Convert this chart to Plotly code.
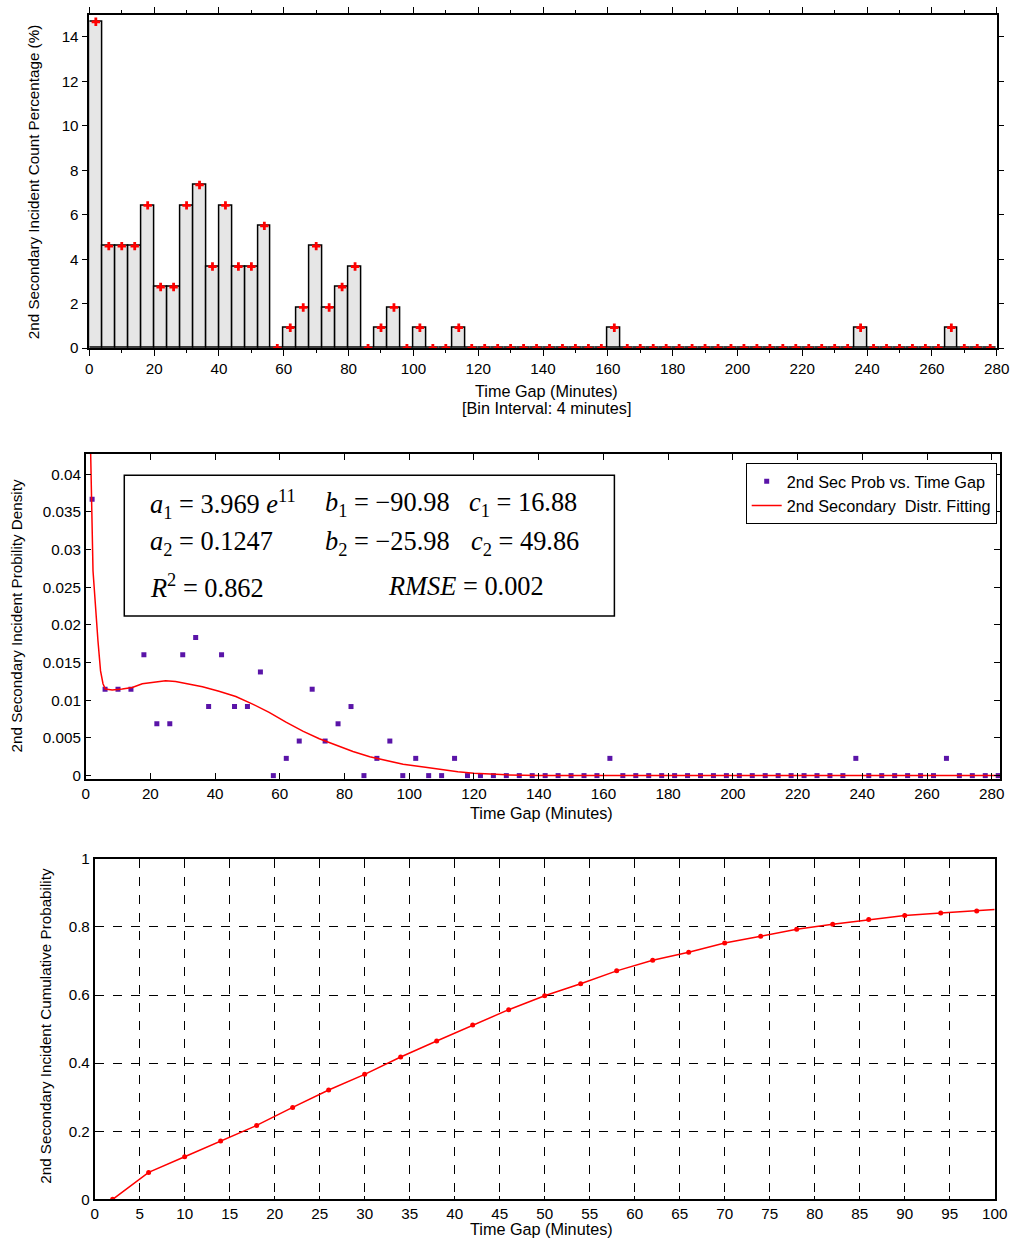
import plotly.graph_objects as go

# ---------------- data ----------------
# Top: histogram of time gaps (4-minute bins), percentage of incidents
bin_centers = list(range(2, 280, 4))
count_pct = [14.68, 4.59, 4.59, 4.59, 6.42, 2.75, 2.75, 6.42, 7.34, 3.67,
             6.42, 3.67, 3.67, 5.50, 0.0, 0.92, 1.83, 4.59, 1.83, 2.75,
             3.67, 0.0, 0.92, 1.83, 0.0, 0.92, 0.0, 0.0, 0.92, 0.0,
             0.0, 0.0, 0.0, 0.0, 0.0, 0.0, 0.0, 0.0, 0.0, 0.0,
             0.92, 0.0, 0.0, 0.0, 0.0, 0.0, 0.0, 0.0, 0.0, 0.0,
             0.0, 0.0, 0.0, 0.0, 0.0, 0.0, 0.0, 0.0, 0.0, 0.92,
             0.0, 0.0, 0.0, 0.0, 0.0, 0.0, 0.92, 0.0, 0.0, 0.0]

# Middle: probability density points and fitted curve
dens_x = list(range(2, 286, 4))
dens_y = [0.0367, 0.01147, 0.01147, 0.01147, 0.01606, 0.00688, 0.00688, 0.01606, 0.01835, 0.00917,
          0.01606, 0.00917, 0.00917, 0.01376, 0.0, 0.00229, 0.00459, 0.01147, 0.00459, 0.00688,
          0.00917, 0.0, 0.00229, 0.00459, 0.0, 0.00229, 0.0, 0.0, 0.00229, 0.0,
          0.0, 0.0, 0.0, 0.0, 0.0, 0.0, 0.0, 0.0, 0.0, 0.0,
          0.00229, 0.0, 0.0, 0.0, 0.0, 0.0, 0.0, 0.0, 0.0, 0.0,
          0.0, 0.0, 0.0, 0.0, 0.0, 0.0, 0.0, 0.0, 0.0, 0.00229,
          0.0, 0.0, 0.0, 0.0, 0.0, 0.0, 0.00229, 0.0, 0.0, 0.0, 0.0]
fit_x = [1.2, 1.55, 2.27, 3.1, 3.8, 4.6, 5.36, 6.1, 8.2, 11.3, 14.4, 17.5, 21.6, 24.7, 27.8,
         31.9, 36.1, 41.2, 46.4, 51.6, 56.7, 61.9, 67.1, 72.2, 77.4, 82.6, 87.8, 92.9,
         98.1, 105, 110, 115, 120, 125, 130, 140, 150, 284]
fit_y = [0.065, 0.0427, 0.0272, 0.0214, 0.0179, 0.0139, 0.0122, 0.0115, 0.01136, 0.0115,
         0.0117, 0.0122, 0.0124, 0.0126, 0.0125, 0.0122, 0.0118, 0.0112, 0.0105, 0.0095,
         0.0084, 0.0071, 0.0059, 0.0049, 0.0040, 0.0032, 0.0025, 0.0020, 0.0015, 0.0011,
         0.0008, 0.0005, 0.0003, 0.0002, 0.0001, 0.00003, 0.0, 0.0]

# Bottom: cumulative probability
cum_x = list(range(2, 100, 4))
cum_y = [0.0, 0.079, 0.125, 0.171, 0.217, 0.270, 0.321, 0.367, 0.418, 0.465,
         0.512, 0.557, 0.598, 0.633, 0.671, 0.702, 0.726, 0.753, 0.773, 0.793,
         0.808, 0.822, 0.834, 0.841, 0.847]
cum_line_x = cum_x + [100]
cum_line_y = cum_y + [0.851]

# ---------------- layout helpers ----------------
W, H = 1013, 1245
# the photographed page comes out slightly shrunk and shifted; positions below are
# given in target-image pixels and mapped back into figure pixels
SX, BX = 0.985, 2.5
SY, BY = 0.988, 7.0
FS = 1 / 0.986

def fx(x):
    return (x - BX) / SX
def fy(y):
    return (y - BY) / SY
def px(x):
    return min(1.0, max(0.0, fx(x) / W))
def py(y):
    return min(1.0, max(0.0, 1 - fy(y) / H))

FONT = "Liberation Sans, Arial, sans-serif"
SERIF = "Liberation Serif, Times New Roman, serif"
PURPLE = "#5a14a8"

fig = go.Figure()

# Top chart
fig.add_trace(go.Bar(x=bin_centers, y=count_pct, width=4,
                     marker=dict(color="#e6e6e6", line=dict(color="black", width=1.5)),
                     xaxis="x", yaxis="y", showlegend=False))
fig.add_trace(go.Scatter(x=bin_centers, y=count_pct, mode="markers",
                         marker=dict(symbol="cross", size=7, color="red"),
                         xaxis="x", yaxis="y", showlegend=False))

# Middle chart
fig.add_trace(go.Scatter(x=dens_x, y=dens_y, mode="markers", name="2nd Sec Prob vs. Time Gap",
                         marker=dict(symbol="square", size=5, color=PURPLE),
                         xaxis="x2", yaxis="y2"))
fig.add_trace(go.Scatter(x=fit_x, y=fit_y, mode="lines", name="2nd Secondary  Distr. Fitting",
                         line=dict(color="red", width=1.5),
                         xaxis="x2", yaxis="y2"))

# Bottom chart
fig.add_trace(go.Scatter(x=cum_line_x, y=cum_line_y, mode="lines",
                         line=dict(color="red", width=1.5),
                         xaxis="x3", yaxis="y3", showlegend=False))
fig.add_trace(go.Scatter(x=cum_x, y=cum_y, mode="markers",
                         marker=dict(symbol="circle", size=5, color="red"),
                         xaxis="x3", yaxis="y3", showlegend=False))

axis_common = dict(showline=True, linecolor="black", linewidth=1.5, mirror="ticks",
                   tickcolor="black", tickfont=dict(family=FONT, size=15 * FS, color="black"),
                   zeroline=False, showgrid=False, ticklabeloverflow="allow")

# middle plot: its right frame sits at the very edge of what can be drawn,
# so its x range is cut where the paper ends
mid_left, mid_right = 84.3, 1005.0
mid_edge = min(mid_right, SX * W + BX)
mid_xmax = 284 * (mid_edge - mid_left) / (mid_right - mid_left)

fig.update_layout(
    width=W, height=H,
    margin=dict(l=0, r=0, t=0, b=0),
    paper_bgcolor="white", plot_bgcolor="white",
    font=dict(family=FONT, size=15 * FS, color="black"),
    bargap=0,
    xaxis=dict(domain=[px(88), px(997)], range=[0, 280], dtick=20, ticks="outside", ticklen=6,
               minor=dict(dtick=10, ticks="outside", ticklen=3, tickcolor="black"),
               anchor="y", **axis_common),
    yaxis=dict(domain=[py(346.7), py(12.7)], range=[0, 15], dtick=2, ticks="outside", ticklen=6,
               anchor="x", **axis_common),
    xaxis2=dict(domain=[px(mid_left), px(mid_edge)], range=[0, mid_xmax], dtick=20,
                ticks="inside", ticklen=6, anchor="y2", **axis_common),
    yaxis2=dict(domain=[py(778.3), py(452.7)], range=[-0.00045, 0.0427], dtick=0.005, tick0=0,
                ticks="inside", ticklen=6, anchor="x2", **axis_common),
    xaxis3=dict(domain=[px(93.3), px(995)], range=[0, 100], dtick=5, ticks="inside", ticklen=4,
                anchor="y3", **{**axis_common, "showgrid": True},
                gridcolor="black", griddash="dash", gridwidth=1),
    yaxis3=dict(domain=[py(1199.3), py(858.3)], range=[0, 1], dtick=0.2, ticks="inside", ticklen=4,
                anchor="x3", **{**axis_common, "showgrid": True},
                gridcolor="black", griddash="dash", gridwidth=1),
    legend=dict(x=px(997), xanchor="right", y=py(462), yanchor="top",
                bordercolor="black", borderwidth=1, bgcolor="white",
                font=dict(family=FONT, size=16 * FS, color="black"),
                tracegroupgap=0),
)

# Fit parameter box
fig.add_shape(type="rect", xref="paper", yref="paper",
              x0=px(123), x1=px(614), y0=py(615), y1=py(474),
              line=dict(color="black", width=1.5), fillcolor="white", layer="above")

param_cells = [
    (147, 503, "<i>a</i><sub>1</sub> = 3.969 <i>e</i><sup>11</sup>"),
    (322, 503, "<i>b</i><sub>1</sub> = −90.98"),
    (466, 503, "<i>c</i><sub>1</sub> = 16.88"),
    (147, 542, "<i>a</i><sub>2</sub> = 0.1247"),
    (322, 542, "<i>b</i><sub>2</sub> = −25.98"),
    (468, 542, "<i>c</i><sub>2</sub> = 49.86"),
    (147, 585, "<i>R</i><sup>2</sup> = 0.862"),
    (385, 585, "<i>RMSE</i> = 0.002"),
]
annotations = []
for x, y, t in param_cells:
    annotations.append(dict(x=px(x), y=py(y), xref="paper", yref="paper", text=t,
                            xanchor="left", yanchor="middle", showarrow=False,
                            font=dict(family=SERIF, size=26 * FS, color="black")))

# Axis titles
titles = [
    (546, 390, "Time Gap (Minutes)", 0, 16),
    (546, 407, "[Bin Interval: 4 minutes]", 0, 16),
    (541, 812, "Time Gap (Minutes)", 0, 16),
    (541, 1229, "Time Gap (Minutes)", 0, 16),
    (32, 180, "2nd Secondary Incident Count Percentage (%)", -90, 15),
    (16, 615, "2nd Secondary Incident Probility Density", -90, 15),
    (44, 1025, "2nd Secondary Incident Cumulative Probability", -90, 15),
]
for x, y, t, ang, fs in titles:
    annotations.append(dict(x=px(x), y=py(y), xref="paper", yref="paper", text=t,
                            xanchor="center", yanchor="middle", showarrow=False, textangle=ang,
                            font=dict(family=FONT, size=fs * FS, color="black")))
fig.update_layout(annotations=annotations)

fig.write_html("out.html")
